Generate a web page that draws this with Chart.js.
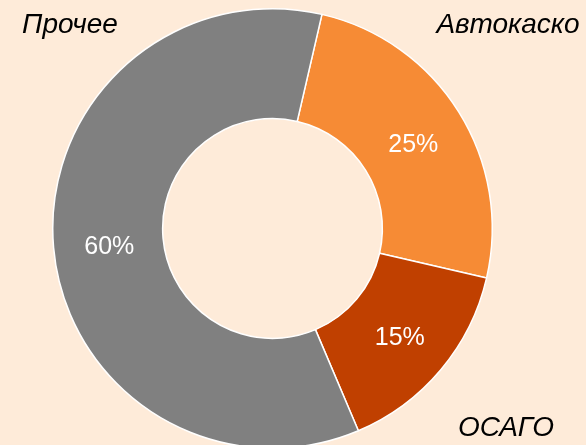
<!DOCTYPE html>
<html><head><meta charset="utf-8">
<script src="https://cdn.jsdelivr.net/npm/chart.js@4/dist/chart.umd.min.js"></script>
<style>html,body{margin:0;padding:0;background:#FEEBD9;overflow:hidden;width:586px;height:445px}canvas{display:block}</style>
</head><body>
<canvas id="c" width="586" height="450"></canvas>
<script>
const categories = ["Автокаско", "ОСАГО", "Прочее"];
const values = [25, 15, 60];
const pctLabels = ["25%", "15%", "60%"];
const colors = ["#F68B35", "#C04000", "#808080"];

const labelPlugin = {
  id: 'labels',
  afterDatasetsDraw(chart) {
    const ctx = chart.ctx;
    const meta = chart.getDatasetMeta(0);
    ctx.save();
    ctx.fillStyle = '#ffffff';
    ctx.font = '25px "Liberation Sans", Arial, sans-serif';
    ctx.textAlign = 'center';
    ctx.textBaseline = 'middle';
    meta.data.forEach((arc, i) => {
      const p = arc.tooltipPosition();
      ctx.fillText(pctLabels[i], p.x + 1, p.y + 4);
    });
    ctx.fillStyle = '#000000';
    ctx.font = 'italic 28px "Liberation Sans", Arial, sans-serif';
    const W = chart.width;
    const pos = {"Автокаско": [W - 78, 25], "ОСАГО": [W - 80, 428], "Прочее": [70, 25]};
    categories.forEach(c => {
      const p = pos[c];
      ctx.fillText(c, p[0], p[1]);
    });
    ctx.restore();
  }
};

new Chart(document.getElementById('c'), {
  type: 'doughnut',
  data: {
    labels: categories,
    datasets: [{
      data: values,
      backgroundColor: colors,
      borderColor: '#ffffff',
      borderWidth: 1.5,
      hoverOffset: 0
    }]
  },
  options: {
    responsive: false,
    animation: false,
    rotation: 13,
    cutout: '50%',
    layout: { padding: { left: 52, right: 93, top: 8, bottom: 1 } },
    plugins: { legend: { display: false }, tooltip: { enabled: false } }
  },
  plugins: [labelPlugin]
});
</script>
</body></html>
